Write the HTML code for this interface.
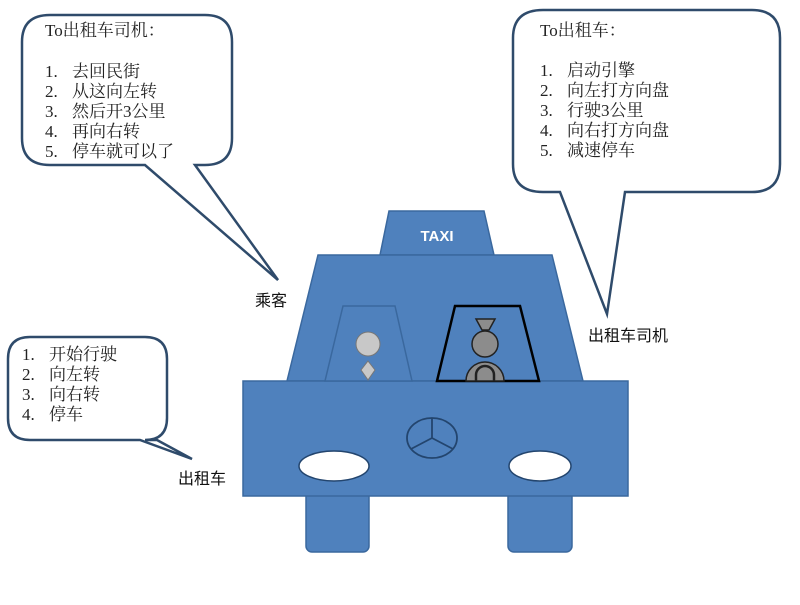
<!DOCTYPE html>
<html><head><meta charset="utf-8"><style>
body{margin:0;background:#fff;}
svg text{font-family:"Liberation Serif","Noto Serif CJK SC",serif;font-size:17px;fill:#222;}
.s{font-family:"Liberation Sans","Noto Sans CJK SC",sans-serif !important;font-size:16px;fill:#111;}
</style></head><body>
<svg width="800" height="600" viewBox="0 0 800 600" xmlns="http://www.w3.org/2000/svg">
<g fill="#fff" stroke="#2f4b6b" stroke-width="2.5" stroke-linejoin="miter">
<path d="M50,15 H205 Q232,15 232,42 V138 Q232,165 205,165 H195 L278,280 L145,165 H50 Q22,165 22,138 V42 Q22,15 50,15 Z"/>
<path d="M543,10 H752 Q780,10 780,38 V164 Q780,192 752,192 H625 L607,314 L560,192 H543 Q513,192 513,164 V38 Q513,10 543,10 Z"/>
<path d="M30,337 H145 Q167,337 167,359 V418 Q167,440 145,440 H157 L192,459 L140,440 H30 Q8,440 8,418 V359 Q8,337 30,337 Z"/>
</g>
<text x="45" y="36">To出租车司机：</text>
<text x="45" y="77">1.</text><text x="72" y="77">去回民街</text>
<text x="45" y="97">2.</text><text x="72" y="97">从这向左转</text>
<text x="45" y="117">3.</text><text x="72" y="117">然后开3公里</text>
<text x="45" y="137">4.</text><text x="72" y="137">再向右转</text>
<text x="45" y="157">5.</text><text x="72" y="157">停车就可以了</text>
<text x="540" y="36">To出租车：</text>
<text x="540" y="76">1.</text><text x="567" y="76">启动引擎</text>
<text x="540" y="96">2.</text><text x="567" y="96">向左打方向盘</text>
<text x="540" y="116">3.</text><text x="567" y="116">行驶3公里</text>
<text x="540" y="136">4.</text><text x="567" y="136">向右打方向盘</text>
<text x="540" y="156">5.</text><text x="567" y="156">减速停车</text>
<text x="22" y="360">1.</text><text x="49" y="360">开始行驶</text>
<text x="22" y="380">2.</text><text x="49" y="380">向左转</text>
<text x="22" y="400">3.</text><text x="49" y="400">向右转</text>
<text x="22" y="420">4.</text><text x="49" y="420">停车</text>
<text class="s" x="255" y="306">乘客</text>
<text class="s" x="588" y="341">出租车司机</text>
<text class="s" x="178" y="484">出租车</text>
<g fill="#4f81bd" stroke="#3a689e" stroke-width="1.5">
<rect x="306" y="490" width="63" height="62" rx="6"/>
<rect x="508" y="490" width="64" height="62" rx="6"/>
<path d="M389,211 H484 L494,255 H380 Z"/>
<path d="M318,255 H552 L583,381 H287 Z"/>
<rect x="243" y="381" width="385" height="115"/>
<path d="M343,306 H395 L412,381 H325 Z"/>
</g>
<text x="437" y="241" text-anchor="middle" style="font-family:'Liberation Sans',sans-serif;font-weight:bold;font-size:15px;fill:#fff">TAXI</text>
<path d="M455,306 H520 L539,381 H437 Z" fill="#4f81bd" stroke="#000" stroke-width="2.5"/>
<circle cx="368" cy="344" r="12" fill="#c8c8c8" stroke="#777" stroke-width="1"/>
<path d="M368,361 L375,370 L368,380 L361,370 Z" fill="#c8c8c8" stroke="#777" stroke-width="1"/>
<g fill="#8c8c8c" stroke="#222" stroke-width="1.5">
<path d="M476,319 H495 L489,330 H482 Z"/>
<circle cx="485" cy="344" r="13"/>
<path d="M466,381 A19,19 0 1 1 504,381 Z"/>
<path d="M476,381 V375 A9,9 0 0 1 494,375 V381" fill="none" stroke-width="2.5"/>
</g>
<g fill="none" stroke="#23456e" stroke-width="1.8">
<ellipse cx="432" cy="438" rx="25" ry="20"/>
<path d="M432,418 V438 L411,449 M432,438 L453,449"/>
</g>
<ellipse cx="334" cy="466" rx="35" ry="15" fill="#fff" stroke="#23456e" stroke-width="1.5"/>
<ellipse cx="540" cy="466" rx="31" ry="15" fill="#fff" stroke="#23456e" stroke-width="1.5"/>
</svg>
</body></html>
